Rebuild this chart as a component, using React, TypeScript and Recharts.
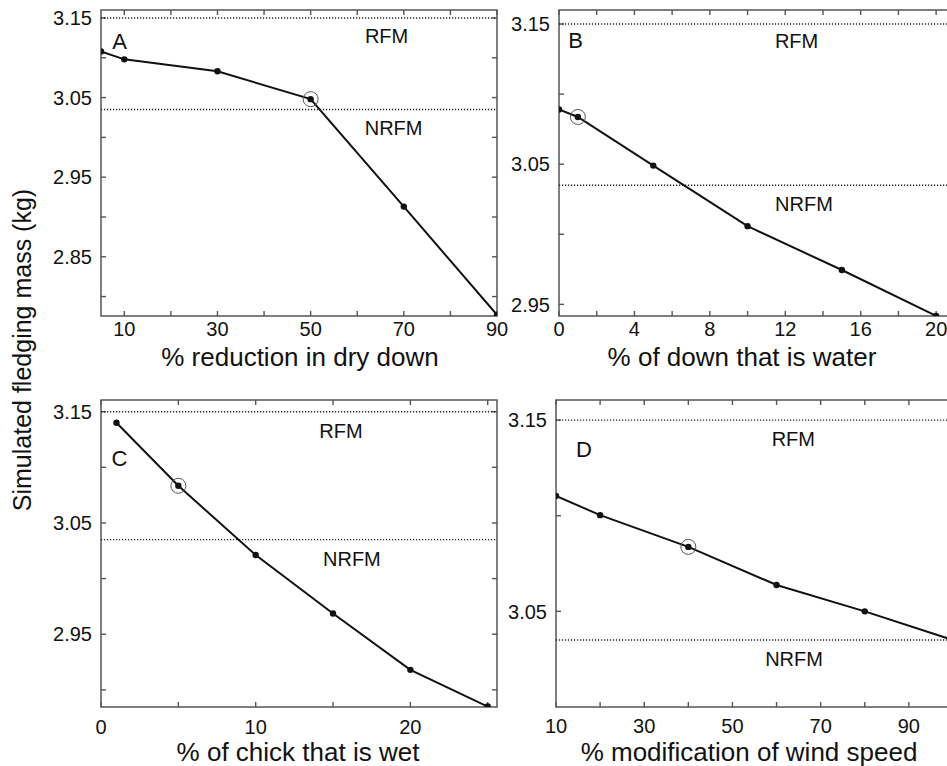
import React from 'react'
import { LineChart, Line, XAxis, YAxis, ReferenceLine, ReferenceDot, ReferenceArea } from 'recharts'

const FONT = '"Liberation Sans", Arial, Helvetica, sans-serif'
const AXIS = '#555'
const INK = '#111'

// reference fledging masses (kg)
const RFM = 3.15
const NRFM = 3.035

// A: % reduction in dry down
const dryDownX = [5, 10, 30, 50, 70, 90]
const dryDownMass = [3.108, 3.098, 3.083, 3.048, 2.913, 2.777]
const dryDownBase = 50
const dryDownTicks = [10, 20, 30, 40, 50, 60, 70, 80, 90]
const dryDownTickLabels = [10, 30, 50, 70, 90]
const dryDownMassTicks = [2.8, 2.85, 2.9, 2.95, 3.0, 3.05, 3.1, 3.15]
const dryDownMassLabels = [2.85, 2.95, 3.05, 3.15]

// B: % of down that is water
const waterX = [0, 1, 5, 10, 15, 20]
const waterMass = [3.089, 3.0837, 3.049, 3.0058, 2.9745, 2.9418]
const waterBase = 1
const waterTicks = [0, 2, 4, 6, 8, 10, 12, 14, 16, 18, 20]
const waterTickLabels = [0, 4, 8, 12, 16, 20]
const waterMassTicks = [2.95, 3.0, 3.05, 3.1, 3.15]
const waterMassLabels = [2.95, 3.05, 3.15]

// C: % of chick that is wet
const wetX = [1, 5, 10, 15, 20, 25]
const wetMass = [3.14, 3.0834, 3.0212, 2.9686, 2.918, 2.885]
const wetBase = 5
const wetTicks = [0, 5, 10, 15, 20, 25]
const wetTickLabels = [0, 10, 20]
const wetMassTicks = [2.9, 2.95, 3.0, 3.05, 3.1, 3.15]
const wetMassLabels = [2.95, 3.05, 3.15]

// D: % modification of wind speed
const windX = [10, 20, 40, 60, 80, 100]
const windMass = [3.1104, 3.1003, 3.0837, 3.0638, 3.05, 3.035]
const windBase = 40
const windTicks = [10, 20, 30, 40, 50, 60, 70, 80, 90, 100]
const windTickLabels = [10, 30, 50, 70, 90]
const windMassTicks = [3.05, 3.1, 3.15]
const windMassLabels = [3.05, 3.15]

type Note = { x: number; y: number; text: string; size: number }

interface PanelProps {
  plotLeft: number
  plotTop: number
  plotW: number
  plotH: number
  xs: number[]
  ys: number[]
  base: number
  xDomain: [number, number]
  yDomain: [number, number]
  xTicks: number[]
  xLabels: number[]
  yTicks: number[]
  yLabels: number[]
  labelGap: number
  notes: Note[]
}

const makeDot = (base: number) => (p: any) => {
  const { cx, cy, payload, index } = p
  return (
    <g key={`dot-${index}`}>
      {payload.x === base && (
        <circle cx={cx} cy={cy} r={7.5} fill="none" stroke="#555" strokeWidth={1} />
      )}
      <circle cx={cx} cy={cy} r={3.2} fill={INK} />
    </g>
  )
}

const TICK_LEN = 5

function Panel(props: PanelProps) {
  const { plotLeft, plotTop, plotW, plotH, xs, ys, base, labelGap, xDomain, yDomain } = props
  const yw = 101
  const data = xs.map((x, i) => ({ x, y: ys[i] }))
  const width = yw + plotW + 20
  const height = 10 + plotH + 50
  // inward tick length expressed in axis units
  const dx = (TICK_LEN * (xDomain[1] - xDomain[0])) / plotW
  const dy = (TICK_LEN * (yDomain[1] - yDomain[0])) / plotH
  const tickStyle = { stroke: AXIS, strokeWidth: 1.4, ifOverflow: 'visible' as const }

  return (
    <div style={{ position: 'absolute', left: plotLeft - yw, top: plotTop - 10 }}>
      <LineChart width={width} height={height} data={data} margin={{ top: 10, right: 20, bottom: 0, left: 0 }}>
        <XAxis
          dataKey="x"
          type="number"
          domain={xDomain}
          allowDataOverflow
          ticks={props.xTicks}
          interval={0}
          height={50}
          tickSize={0}
          tickMargin={0}
          axisLine={false}
          tickLine={false}
          tick={(t: any) =>
            props.xLabels.includes(t.payload.value) ? (
              <text x={t.x} y={t.y + labelGap} dy="0.71em" textAnchor="middle" fontSize={20} fill={INK}>
                {t.payload.value}
              </text>
            ) : (
              <g />
            )
          }
        />
        <YAxis
          type="number"
          domain={yDomain}
          allowDataOverflow
          ticks={props.yTicks}
          interval={0}
          width={yw}
          tickSize={0}
          tickMargin={0}
          axisLine={false}
          tickLine={false}
          tick={(t: any) =>
            props.yLabels.includes(t.payload.value) ? (
              <text x={t.x - 9} y={t.y} dy="0.36em" textAnchor="end" fontSize={20} fill={INK}>
                {t.payload.value.toFixed(2)}
              </text>
            ) : (
              <g />
            )
          }
        />
        <ReferenceArea
          x1={xDomain[0]}
          x2={xDomain[1]}
          y1={yDomain[0]}
          y2={yDomain[1]}
          fill="none"
          fillOpacity={0}
          stroke={AXIS}
          strokeWidth={1.5}
          ifOverflow="visible"
        />
        {props.xTicks.map((v) => (
          <ReferenceLine key={`b${v}`} segment={[{ x: v, y: yDomain[0] }, { x: v, y: yDomain[0] + dy }]} {...tickStyle} />
        ))}
        {props.xTicks.map((v) => (
          <ReferenceLine key={`t${v}`} segment={[{ x: v, y: yDomain[1] }, { x: v, y: yDomain[1] - dy }]} {...tickStyle} />
        ))}
        {props.yTicks.map((v) => (
          <ReferenceLine key={`l${v}`} segment={[{ x: xDomain[0], y: v }, { x: xDomain[0] + dx, y: v }]} {...tickStyle} />
        ))}
        {props.yTicks.map((v) => (
          <ReferenceLine key={`r${v}`} segment={[{ x: xDomain[1], y: v }, { x: xDomain[1] - dx, y: v }]} {...tickStyle} />
        ))}
        <ReferenceLine y={RFM} stroke="#222" strokeWidth={1.4} strokeDasharray="1.2 1.8" />
        <ReferenceLine y={NRFM} stroke="#222" strokeWidth={1.4} strokeDasharray="1.2 1.8" />
        {props.notes.map((n) => (
          <ReferenceDot
            key={n.text}
            x={n.x}
            y={n.y}
            r={0}
            fill="none"
            stroke="none"
            ifOverflow="visible"
            label={{ value: n.text, position: 'center', fontSize: n.size, fill: INK }}
          />
        ))}
        <Line
          dataKey="y"
          stroke={INK}
          strokeWidth={2}
          dot={makeDot(base)}
          activeDot={false}
          isAnimationActive={false}
        />
      </LineChart>
    </div>
  )
}

export default function App() {
  return (
    <div
      style={{
        position: 'fixed',
        left: 0,
        top: 0,
        width: 947,
        height: 766,
        overflow: 'hidden',
        background: '#fff',
        fontFamily: FONT,
      }}
    >
      <Panel
        plotLeft={101}
        plotTop={10}
        plotW={396}
        plotH={306}
        xs={dryDownX}
        ys={dryDownMass}
        base={dryDownBase}
        xDomain={[5, 90]}
        yDomain={[2.7756, 3.16]}
        xTicks={dryDownTicks}
        xLabels={dryDownTickLabels}
        yTicks={dryDownMassTicks}
        yLabels={dryDownMassLabels}
        labelGap={6}
        notes={[
          { x: 8.97, y: 3.1213, text: 'A', size: 22 },
          { x: 66.3, y: 3.128, text: 'RFM', size: 20 },
          { x: 67.8, y: 3.0124, text: 'NRFM', size: 20 },
        ]}
      />
      <Panel
        plotLeft={559}
        plotTop={10}
        plotW={396}
        plotH={306}
        xs={waterX}
        ys={waterMass}
        base={waterBase}
        xDomain={[0, 21]}
        yDomain={[2.9417, 3.16]}
        xTicks={waterTicks}
        xLabels={waterTickLabels}
        yTicks={waterMassTicks}
        yLabels={waterMassLabels}
        labelGap={6}
        notes={[
          { x: 0.875, y: 3.1382, text: 'B', size: 22 },
          { x: 12.6, y: 3.138, text: 'RFM', size: 20 },
          { x: 12.99, y: 3.0216, text: 'NRFM', size: 20 },
        ]}
      />
      <Panel
        plotLeft={101}
        plotTop={400}
        plotW={396}
        plotH={307}
        xs={wetX}
        ys={wetMass}
        base={wetBase}
        xDomain={[0, 25.6]}
        yDomain={[2.8846, 3.1605]}
        xTicks={wetTicks}
        xLabels={wetTickLabels}
        yTicks={wetMassTicks}
        yLabels={wetMassLabels}
        labelGap={13}
        notes={[
          { x: 1.2, y: 3.1079, text: 'C', size: 22 },
          { x: 15.51, y: 3.1331, text: 'RFM', size: 20 },
          { x: 16.22, y: 3.0176, text: 'NRFM', size: 20 },
        ]}
      />
      <Panel
        plotLeft={556}
        plotTop={400}
        plotW={397}
        plotH={307}
        xs={windX}
        ys={windMass}
        base={windBase}
        xDomain={[10, 100]}
        yDomain={[3.0, 3.1605]}
        xTicks={windTicks}
        xLabels={windTickLabels}
        yTicks={windMassTicks}
        yLabels={windMassLabels}
        labelGap={12}
        notes={[
          { x: 16.35, y: 3.1349, text: 'D', size: 22 },
          { x: 63.8, y: 3.1401, text: 'RFM', size: 20 },
          { x: 63.96, y: 3.0251, text: 'NRFM', size: 20 },
        ]}
      />
      <svg
        width={947}
        height={766}
        style={{ position: 'absolute', left: 0, top: 0, pointerEvents: 'none' }}
      >
        <g fill={INK} fontSize={26} textAnchor="middle">
          <text x={300} y={366}>% reduction in dry down</text>
          <text x={742} y={366}>% of down that is water</text>
          <text x={298} y={761}>% of chick that is wet</text>
          <text x={749} y={761}>% modification of wind speed</text>
        </g>
        <text x={0} y={0} fontSize={25} fill={INK} textAnchor="middle" transform="translate(31 350) rotate(-90)">
          Simulated fledging mass (kg)
        </text>
      </svg>
    </div>
  )
}
